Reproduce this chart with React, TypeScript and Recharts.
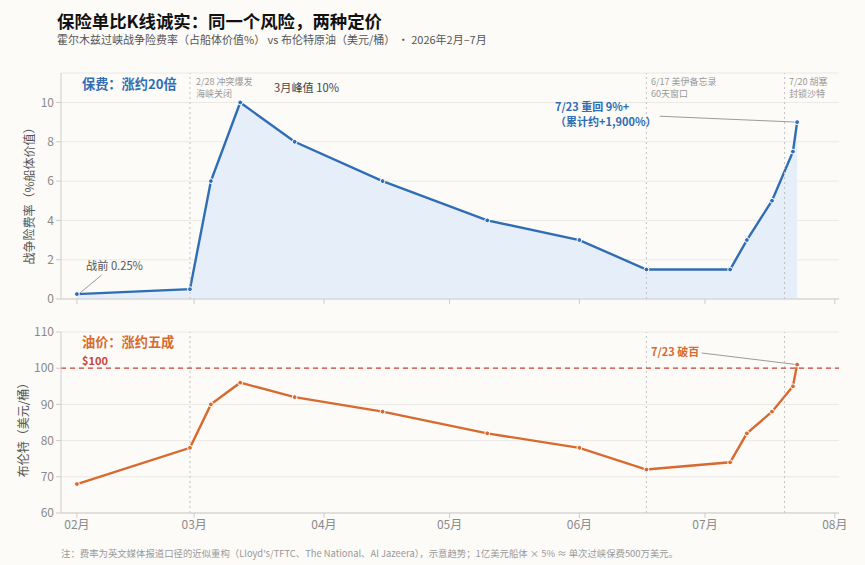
import { ComposedChart, Area, Line, XAxis, YAxis, CartesianGrid, ReferenceLine } from 'recharts'

// dates shared by both series
const dates = [
  '2026-02-01', '2026-02-28', '2026-03-05', '2026-03-12', '2026-03-25', '2026-04-15', '2026-05-10',
  '2026-06-01', '2026-06-17', '2026-07-07', '2026-07-11', '2026-07-17', '2026-07-22', '2026-07-23',
]
// war-risk premium, % of hull value
const premium = [0.25, 0.5, 6, 10, 8, 6, 4, 3, 1.5, 1.5, 3, 5, 7.5, 9]
// Brent, USD/bbl
const brent = [68, 78, 90, 96, 92, 88, 82, 78, 72, 74, 82, 88, 95, 101]

const monthTicks = ['2026-02-01', '2026-03-01', '2026-04-01', '2026-05-01', '2026-06-01', '2026-07-01', '2026-08-01']
const monthLabels = ['02月', '03月', '04月', '05月', '06月', '07月', '08月']
const eventDates = ['2026-02-28', '2026-06-17', '2026-07-20']

const premiumTicks = [0, 2, 4, 6, 8, 10]
const brentTicks = [60, 70, 80, 90, 100, 110]

const toDay = (s: string) => {
  const [y, m, d] = s.split('-').map(Number)
  return (Date.UTC(y, m - 1, d) - Date.UTC(2026, 1, 1)) / 86400000
}

const data = dates.map((d, i) => ({ day: toDay(d), premium: premium[i], brent: brent[i] }))
const xTicks = monthTicks.map(toDay)
const events = eventDates.map(toDay)
const X_DOMAIN: [number, number] = [-3.8, 182]

const FONT = '"Noto Sans CJK SC", "Noto Sans", sans-serif'
const BLUE = '#2f6db5'
const ORANGE = '#d8692f'
const RED = '#c9453b'
const AXIS = '#cfcdc8'
const GRID = '#ebe9e4'
const TICK = { fill: '#8a8a8a', fontSize: 12, fontFamily: FONT }

const monthLabel = (v: number) => monthLabels[xTicks.indexOf(v)] ?? ''

export default function App() {
  return (
    <div style={{ position: 'absolute', left: 0, top: 0, width: 865, height: 565, background: '#fcfbf8', fontFamily: FONT }}>
      <div style={{ position: 'absolute', left: 0, top: 0 }}>
        <ComposedChart width={865} height={320} data={data} margin={{ top: 73, right: 26, left: 0, bottom: 0 }}>
          <CartesianGrid vertical={false} stroke={GRID} />
          <XAxis type="number" dataKey="day" domain={X_DOMAIN} ticks={xTicks} tickFormatter={() => ''}
            height={21} stroke={AXIS} tickSize={5} allowDataOverflow />
          <YAxis domain={[0, 11.5]} ticks={premiumTicks} width={61} stroke={AXIS} tickSize={5} tick={TICK} allowDataOverflow />
          {events.map((d) => (
            <ReferenceLine key={d} x={d} stroke="#c2c2c2" strokeDasharray="2 3" />
          ))}
          <ReferenceLine segment={[{ x: 0.7, y: 0.3 }, { x: 5.9, y: 1.22 }]} stroke="#9a9a9a" />
          <ReferenceLine segment={[{ x: 139.2, y: 9.3 }, { x: 172, y: 9 }]} stroke="#9a9a9a" />
          <Area dataKey="premium" type="linear" stroke={BLUE} strokeWidth={2.4} fill="#e6eef9" fillOpacity={1}
            dot={{ r: 2.4, fill: BLUE, stroke: '#fff', strokeWidth: 1 }} activeDot={false} isAnimationActive={false} />
        </ComposedChart>
      </div>
      <div style={{ position: 'absolute', left: 0, top: 310 }}>
        <ComposedChart width={865} height={255} data={data} margin={{ top: 22, right: 26, left: 0, bottom: 22 }}>
          <CartesianGrid vertical={false} stroke={GRID} />
          <XAxis type="number" dataKey="day" domain={X_DOMAIN} ticks={xTicks} tickFormatter={monthLabel}
            height={30} stroke={AXIS} tickSize={5} tick={TICK} allowDataOverflow />
          <YAxis domain={[60, 110]} ticks={brentTicks} width={61} stroke={AXIS} tickSize={5} tick={TICK} allowDataOverflow />
          {events.map((d) => (
            <ReferenceLine key={d} x={d} stroke="#c2c2c2" strokeDasharray="2 3" />
          ))}
          <ReferenceLine y={100} stroke={RED} strokeDasharray="5 4" strokeWidth={1.3} />
          <ReferenceLine segment={[{ x: 149.2, y: 104.2 }, { x: 171.9, y: 101 }]} stroke="#9a9a9a" />
          <Line dataKey="brent" type="linear" stroke={ORANGE} strokeWidth={2.4}
            dot={{ r: 2.4, fill: ORANGE, stroke: '#fff', strokeWidth: 1 }} activeDot={false} isAnimationActive={false} />
        </ComposedChart>
      </div>
      <svg width={865} height={565} style={{ position: 'absolute', left: 0, top: 0, pointerEvents: 'none' }} fontFamily={FONT}>
        <text x={57} y={20.5} fontSize={17.4} fontWeight={700} fill="#111" dominantBaseline="central">保险单比K线诚实：同一个风险，两种定价</text>
        <text x={57} y={39} fontSize={11} fill="#555" dominantBaseline="central">霍尔木兹过峡战争险费率（占船体价值%） vs 布伦特原油（美元/桶） · 2026年2月–7月</text>

        <text x={28} y={193} fontSize={12} fill="#555" textAnchor="middle" dominantBaseline="central" transform="rotate(-90 28 193)">战争险费率（%船体价值）</text>
        <text x={22} y={427} fontSize={12} fill="#555" textAnchor="middle" dominantBaseline="central" transform="rotate(-90 22 427)">布伦特（美元/桶）</text>

        <text x={82} y={83} fontSize={13.2} fontWeight={700} fill={BLUE} dominantBaseline="central">保费：涨约20倍</text>
        <text x={196} y={81.5} fontSize={9} fill="#999" dominantBaseline="central">2/28 冲突爆发</text>
        <text x={196} y={93} fontSize={9} fill="#999" dominantBaseline="central">海峡关闭</text>
        <text x={274} y={87} fontSize={11.2} fill="#444" dominantBaseline="central">3月峰值 10%</text>
        <text x={651} y={81.5} fontSize={9} fill="#999" dominantBaseline="central">6/17 美伊备忘录</text>
        <text x={651} y={93} fontSize={9} fill="#999" dominantBaseline="central">60天窗口</text>
        <text x={789} y={81.5} fontSize={9} fill="#999" dominantBaseline="central">7/20 胡塞</text>
        <text x={789} y={93} fontSize={9} fill="#999" dominantBaseline="central">封锁沙特</text>
        <text x={555} y={106} fontSize={11} fontWeight={700} fill={BLUE} dominantBaseline="central">7/23 重回 9%+</text>
        <text x={555} y={120.5} fontSize={11} fontWeight={700} fill={BLUE} dominantBaseline="central">（累计约+1,900%）</text>
        <text x={86} y={265} fontSize={11.2} fill="#555" dominantBaseline="central">战前 0.25%</text>

        <text x={82} y={341} fontSize={13.2} fontWeight={700} fill={ORANGE} dominantBaseline="central">油价：涨约五成</text>
        <text x={82} y={360} fontSize={11} fontWeight={700} fill={RED} dominantBaseline="central">$100</text>
        <text x={651} y={351} fontSize={11} fontWeight={700} fill={ORANGE} dominantBaseline="central">7/23 破百</text>

        <text x={61} y={552.5} fontSize={9.4} fill="#999" dominantBaseline="central">注：费率为英文媒体报道口径的近似重构（Lloyd's/TFTC、The National、Al Jazeera），示意趋势；1亿美元船体 × 5% ≈ 单次过峡保费500万美元。</text>
      </svg>
    </div>
  )
}
